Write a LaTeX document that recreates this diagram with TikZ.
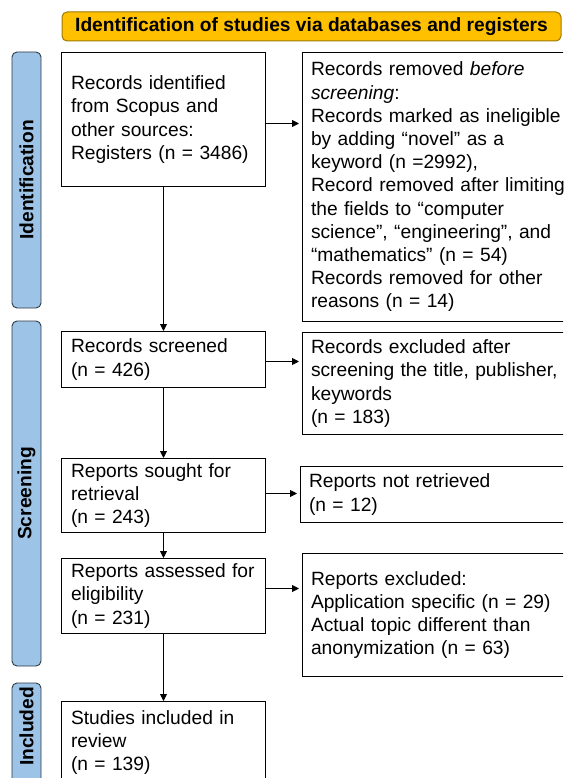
\documentclass[tikz,border=0pt]{standalone}
\usepackage{fontspec}
\setmainfont{Liberation Sans}
\usetikzlibrary{arrows.meta}
\definecolor{hdrfill}{HTML}{FFC000}
\definecolor{hdrline}{HTML}{9C7A00}
\definecolor{barfill}{HTML}{9DC3E6}
\definecolor{barline}{HTML}{2E3A46}

\begin{document}
\begin{tikzpicture}[x=1pt,y=-1pt,
      txt/.style={font=\fontsize{19.2}{23.2}\selectfont},
      stage/.style={txt,draw=black,line width=1pt,anchor=north west,align=left,inner xsep=9.5pt,inner ysep=0pt},
      main/.style={stage,text width=185pt},
      wide/.style={stage,inner xsep=8.5pt,text width=280pt},
      side/.style={txt,font=\fontsize{19.2}{23.2}\selectfont\bfseries,draw=barline,fill=barfill,line width=0.9pt,
        rounded corners=5pt,rotate=90,minimum height=29pt,inner sep=0pt},
      head/.style={txt,font=\fontsize{19.2}{23.2}\selectfont\bfseries,draw=hdrline,fill=hdrfill,line width=1pt,
        rounded corners=5pt,minimum width=499pt,minimum height=29pt,inner sep=0pt},
      flow/.style={line width=0.9pt,-{Triangle[length=7pt,width=7pt]}}]
    \path[use as bounding box,clip] (0,0) rectangle (563,778);
    % header and phase bars
    \node[head] (title) at (311.5,26.5) {Identification of studies via databases and registers};
    \node[side,minimum width=256pt] (idbar) at (26.5,180) {Identification};
    \node[side,minimum width=345pt] (scbar) at (26.5,493.5) {Screening};
    \node[side,text width=109pt,align=right,inner xsep=4pt] (inbar) at (26.5,741.5) {Included};
    % main column
    \node[main,minimum height=134pt] (ident) at (61,52) {Records identified\\from Scopus and\\other sources:\\Registers (n = 3486)};
    \node[main,minimum height=56pt] (screen) at (61,331) {Records screened\\(n = 426)};
    \node[main,minimum height=74pt] (sought) at (61,458) {Reports sought for\\retrieval\\(n = 243)};
    \node[main,minimum height=75pt] (assess) at (61,558) {Reports assessed for\\eligibility\\(n = 231)};
    \node[main,minimum height=82pt] (incl) at (61,701) {Studies included in\\review\\(n = 139)};
    % side column
    \node[wide,minimum height=269pt] (removed) at (302,52) {Records removed \textit{before}\\\textit{screening}:\\Records marked as ineligible\\by adding “novel” as a\\keyword (n =2992),\\Record removed after limiting\\the fields to “computer\\science”, “engineering”, and\\“mathematics” (n = 54)\\Records removed for other\\reasons (n = 14)};
    \node[wide,minimum height=102pt] (excl) at (302,332) {Records excluded after\\screening the title, publisher,\\keywords\\(n = 183)};
    \node[wide,minimum height=56pt] (notret) at (300,466) {Reports not retrieved\\(n = 12)};
    \node[wide,minimum height=123pt] (repexcl) at (302,553) {Reports excluded:\\Application specific (n = 29)\\Actual topic different than\\anonymization (n = 63)};
    % connectors
    \draw[flow] (ident.south) -- (screen.north);
    \draw[flow] (screen.south) -- (sought.north);
    \draw[flow] (sought.south) -- (assess.north);
    \draw[flow] (assess.south) -- (incl.north);
    \draw[flow,shorten >=3pt] ([yshift=-4pt]ident.east) -- ([yshift=-4pt]ident.east -| removed.west);
    \draw[flow,shorten >=3pt] ([yshift=-2pt]screen.east) -- ([yshift=-2pt]screen.east -| excl.west);
    \draw[flow,shorten >=3pt] ([yshift=2pt]sought.east) -- ([yshift=2pt]sought.east -| notret.west);
    \draw[flow,shorten >=3pt] ([yshift=7.5pt]assess.east) -- ([yshift=7.5pt]assess.east -| repexcl.west);
  \end{tikzpicture}
\end{document}
